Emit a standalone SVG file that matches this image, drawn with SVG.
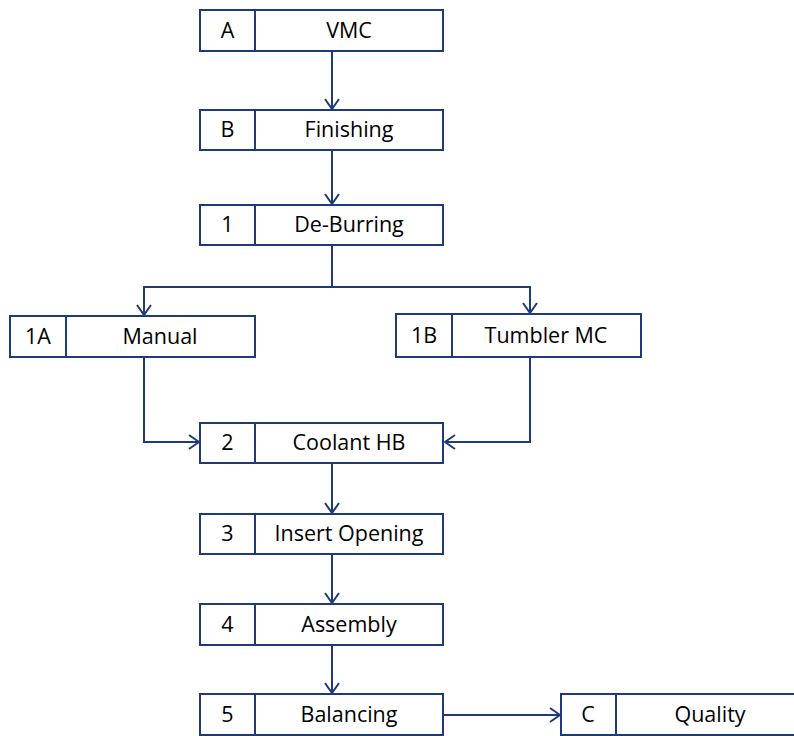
<svg xmlns="http://www.w3.org/2000/svg" width="794" height="736" viewBox="0 0 794 736">
  <defs>
    <marker id="arrow" viewBox="0 0 12 16" refX="11" refY="8" markerWidth="12" markerHeight="16" markerUnits="userSpaceOnUse" orient="auto">
      <path d="M1,1 L11,8 L1,15" fill="none" stroke="#1f3a7a" stroke-width="2"/>
    </marker>
  </defs>
  <style>
    .box { fill: #ffffff; stroke: #1f3a7a; stroke-width: 2; }
    .div { stroke: #1f3a7a; stroke-width: 2; }
    .t { font-family: "Open Sans", "Liberation Sans", sans-serif; font-size: 21.5px; fill: #000000; text-anchor: middle; }
    .link { fill: none; stroke: #1f3a7a; stroke-width: 2; marker-end: url(#arrow); }
  </style>
  <rect width="794" height="736" fill="#ffffff"/>

  <g id="connectors">
    <path class="link" d="M332,51 V109"/>
    <path class="link" d="M332,150 V204"/>
    <path class="link" d="M332,245 V287 H144 V315"/>
    <path class="link" d="M332,287 H530 V313"/>
    <path class="link" d="M144,357 V442 H199"/>
    <path class="link" d="M530,357 V442 H445"/>
    <path class="link" d="M332,463 V513"/>
    <path class="link" d="M332,554 V603"/>
    <path class="link" d="M332,645 V693"/>
    <path class="link" d="M444,715 H560"/>
  </g>

  <g id="node-A">
    <rect class="box" x="200" y="10" width="243" height="41"/>
    <line class="div" x1="255" y1="10" x2="255" y2="51"/>
    <text class="t" x="227.5" y="38">A</text>
    <text class="t" x="349" y="38">VMC</text>
  </g>
  <g id="node-B">
    <rect class="box" x="200" y="110" width="243" height="40"/>
    <line class="div" x1="255" y1="110" x2="255" y2="150"/>
    <text class="t" x="227.5" y="137">B</text>
    <text class="t" x="349" y="137">Finishing</text>
  </g>
  <g id="node-1">
    <rect class="box" x="200" y="205" width="243" height="40"/>
    <line class="div" x1="255" y1="205" x2="255" y2="245"/>
    <text class="t" x="227.5" y="232">1</text>
    <text class="t" x="349" y="232">De-Burring</text>
  </g>
  <g id="node-1A">
    <rect class="box" x="10" y="316" width="245" height="41"/>
    <line class="div" x1="66" y1="316" x2="66" y2="357"/>
    <text class="t" x="38" y="344">1A</text>
    <text class="t" x="160" y="344">Manual</text>
  </g>
  <g id="node-1B">
    <rect class="box" x="396" y="314" width="245" height="43"/>
    <line class="div" x1="452" y1="314" x2="452" y2="357"/>
    <text class="t" x="424" y="343">1B</text>
    <text class="t" x="546" y="343">Tumbler MC</text>
  </g>
  <g id="node-2">
    <rect class="box" x="200" y="423" width="243" height="40"/>
    <line class="div" x1="255" y1="423" x2="255" y2="463"/>
    <text class="t" x="227.5" y="450">2</text>
    <text class="t" x="349" y="450">Coolant HB</text>
  </g>
  <g id="node-3">
    <rect class="box" x="200" y="514" width="243" height="40"/>
    <line class="div" x1="255" y1="514" x2="255" y2="554"/>
    <text class="t" x="227.5" y="541">3</text>
    <text class="t" x="349" y="541">Insert Opening</text>
  </g>
  <g id="node-4">
    <rect class="box" x="200" y="604" width="243" height="41"/>
    <line class="div" x1="255" y1="604" x2="255" y2="645"/>
    <text class="t" x="227.5" y="632">4</text>
    <text class="t" x="349" y="632">Assembly</text>
  </g>
  <g id="node-5">
    <rect class="box" x="200" y="694" width="243" height="41"/>
    <line class="div" x1="255" y1="694" x2="255" y2="735"/>
    <text class="t" x="227.5" y="722">5</text>
    <text class="t" x="349" y="722">Balancing</text>
  </g>
  <g id="node-C">
    <rect class="box" x="561" y="694" width="243" height="41"/>
    <line class="div" x1="616" y1="694" x2="616" y2="735"/>
    <text class="t" x="588" y="722">C</text>
    <text class="t" x="710" y="722">Quality</text>
  </g>
</svg>
